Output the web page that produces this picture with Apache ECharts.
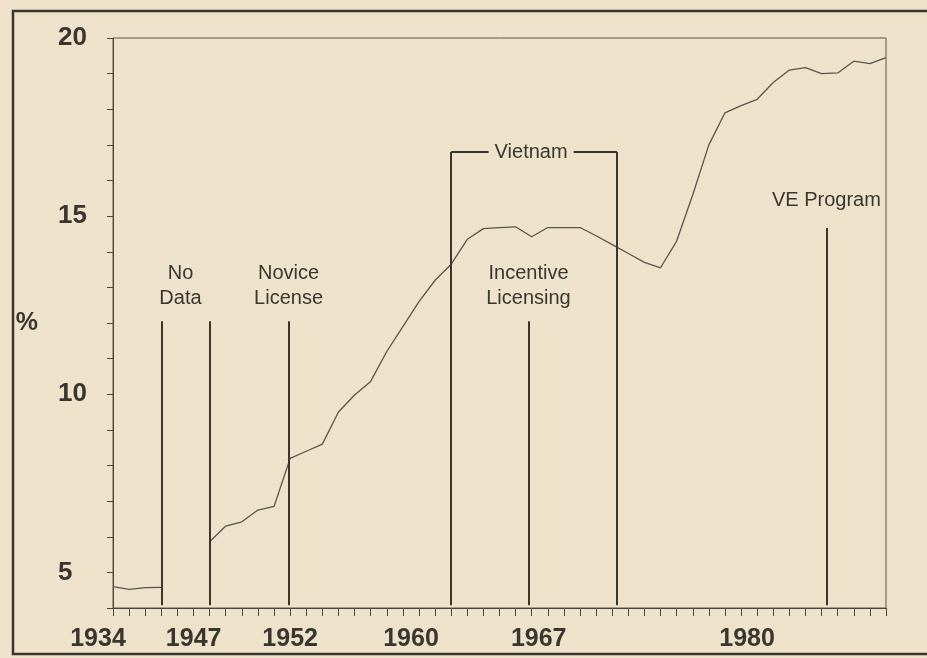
<!DOCTYPE html>
<html>
<head>
<meta charset="utf-8">
<title>Licensed share, %</title>
<script src="https://cdn.jsdelivr.net/npm/echarts@6/dist/echarts.min.js"></script>
<style>
html, body { margin: 0; padding: 0; background: #eee3ca; }
#chart { width: 927px; height: 658px; }
</style>
</head>
<body>
<div id="chart"></div>
<script>
// values
var preYears = [1934, 1935, 1936, 1937];
var preValues = [4.6, 4.52, 4.57, 4.58];

var postYears = [1947, 1948, 1949, 1950, 1951, 1952, 1953, 1954, 1955, 1956,
	1957, 1958, 1959, 1960, 1961, 1962, 1963, 1964, 1965, 1966,
	1967, 1968, 1969, 1970, 1971, 1972, 1973, 1974, 1975, 1976,
	1977, 1978, 1979, 1980, 1981, 1982, 1983, 1984, 1985, 1986,
	1987, 1988, 1989];
var postValues = [5.86, 6.3, 6.42, 6.75, 6.85, 8.2, 8.4, 8.6, 9.5, 9.98,
	10.36, 11.2, 11.9, 12.6, 13.2, 13.65, 14.35, 14.65, 14.68, 14.7,
	14.42, 14.68, 14.68, 14.68, 14.45, 14.2, 13.95, 13.7, 13.55, 14.3,
	15.6, 17.0, 17.9, 18.1, 18.28, 18.75, 19.1, 19.17, 19.0, 19.02,
	19.35, 19.28, 19.45];

var xTickLabels = ['1934', '1947', '1952', '1960', '1967', '1980'];
var yTickLabels = [5, 10, 15, 20];

var gapYears = [1937, 1947];
var eventNames = ['Novice\nLicense', 'Incentive\nLicensing', 'VE Program'];
var eventYears = [1951.9, 1966.8, 1985.3];
var vietnamYears = [1962, 1972.3];

var ink = '#38362f';
var paper = '#eee3ca';
var font = '"Liberation Sans", Arial, sans-serif';

// the war years are squeezed into three ticks
function yearToIdx(y) {
	return y <= 1937 ? y - 1934 : y - 1941;
}
function idxToYear(i) {
	return i <= 3 ? 1934 + i : 1941 + i;
}

function pairs(years, values) {
	var out = [];
	for (var i = 0; i < years.length; i++) {
		out.push([yearToIdx(years[i]), values[i]]);
	}
	return out;
}

var shiftStyle = {'1934': 'a', '1947': 'b', '1952': 'f', '1960': 'c', '1967': 'd', '1980': 'e'};

function vline(x, yTop) {
	return [{coord: [x, 4.08]}, {coord: [x, yTop]}];
}

var lines = [];
lines.push(vline(yearToIdx(gapYears[0]), 12.05));
lines.push(vline(yearToIdx(gapYears[1]), 12.05));
lines.push(vline(yearToIdx(eventYears[0]), 12.05));
lines.push(vline(yearToIdx(eventYears[1]), 12.05));
lines.push(vline(yearToIdx(eventYears[2]), 14.67));
var vl = yearToIdx(vietnamYears[0]), vr = yearToIdx(vietnamYears[1]);
lines.push(vline(vl, 16.8));
lines.push(vline(vr, 16.8));
lines.push([{coord: [vl, 16.8]}, {coord: [vr, 16.8]}]);

var labelBase = {show: true, position: 'top', color: ink, fontFamily: font, fontSize: 20, lineHeight: 25, distance: 10};

var points = [];
points.push({coord: [(yearToIdx(gapYears[0]) + yearToIdx(gapYears[1])) / 2, 12.05], value: 'No\nData',
	label: Object.assign({}, labelBase, {offset: [-5, 0]})});
for (var k = 0; k < eventNames.length; k++) {
	var lineTop = k === 2 ? 14.67 : 12.05;
	points.push({coord: [yearToIdx(eventYears[k]), lineTop], value: eventNames[k],
		label: Object.assign({}, labelBase, {distance: k === 2 ? 15 : 10, offset: [0, 0]})});
}
points.push({coord: [(vl + vr) / 2, 16.8], value: 'Vietnam',
	label: Object.assign({}, labelBase, {position: 'inside', backgroundColor: paper, padding: [2, 6], offset: [-3, 0]})});

var myChart = echarts.init(document.getElementById('chart'));
var option = {
	backgroundColor: paper,
	animation: false,
	textStyle: {fontFamily: font},
	grid: {left: 113, right: 41, top: 38, bottom: 50, show: true, borderColor: '#5a574f', borderWidth: 1},
	graphic: [{
		type: 'rect',
		shape: {x: 13, y: 11, width: 940, height: 643},
		style: {fill: 'none', stroke: ink, lineWidth: 2.5},
		silent: true
	}],
	xAxis: {
		type: 'value',
		min: 0,
		max: 48,
		interval: 1,
		splitLine: {show: false},
		axisLine: {lineStyle: {color: '#4a4740', width: 1}},
		axisTick: {length: 8, lineStyle: {color: '#4a4740', width: 1}},
		axisLabel: {
			margin: 19,
			color: ink,
			fontSize: 25,
			fontWeight: 'bold',
			fontFamily: font,
			formatter: function (v) {
				var y = String(idxToYear(v));
				if (xTickLabels.indexOf(y) < 0) return '';
				return '{' + shiftStyle[y] + '|' + y + '}';
			},
			rich: {
				a: {padding: [0, 30, 0, 0]},
				b: {padding: [0, 32, 0, 0]},
				c: {padding: [0, 16, 0, 0]},
				d: {padding: [0, 0, 0, 14]},
				e: {padding: [0, 0, 0, 12]},
				f: {}
			}
		}
	},
	yAxis: {
		type: 'value',
		min: 4,
		max: 20,
		interval: 1,
		name: '%',
		nameLocation: 'middle',
		nameRotate: 0,
		nameGap: 75,
		nameTextStyle: {color: ink, fontSize: 25, fontWeight: 'bold', fontFamily: font, padding: [16, 0, 0, 0]},
		splitLine: {show: false},
		axisLine: {lineStyle: {color: '#4a4740', width: 1}},
		axisTick: {length: 6, lineStyle: {color: '#4a4740', width: 1}},
		axisLabel: {
			margin: 55,
			align: 'left',
			color: ink,
			fontSize: 26,
			fontWeight: 'bold',
			fontFamily: font,
			formatter: function (v) {
				return yTickLabels.indexOf(v) >= 0 ? String(v) : '';
			}
		}
	},
	series: [{
		name: 'pre',
		type: 'line',
		data: pairs(preYears, preValues),
		showSymbol: false,
		lineStyle: {color: '#58554c', width: 1.3}
	}, {
		name: 'post',
		type: 'line',
		data: pairs(postYears, postValues),
		showSymbol: false,
		lineStyle: {color: '#58554c', width: 1.3},
		markLine: {
			silent: true,
			symbol: ['none', 'none'],
			label: {show: false},
			lineStyle: {color: ink, width: 2, type: 'solid'},
			data: lines
		},
		markPoint: {
			silent: true,
			symbol: 'circle',
			symbolSize: 0,
			itemStyle: {color: 'transparent'},
			label: {formatter: function (p) { return p.value; }},
			data: points
		}
	}]
};
myChart.setOption(option);
</script>
</body>
</html>
